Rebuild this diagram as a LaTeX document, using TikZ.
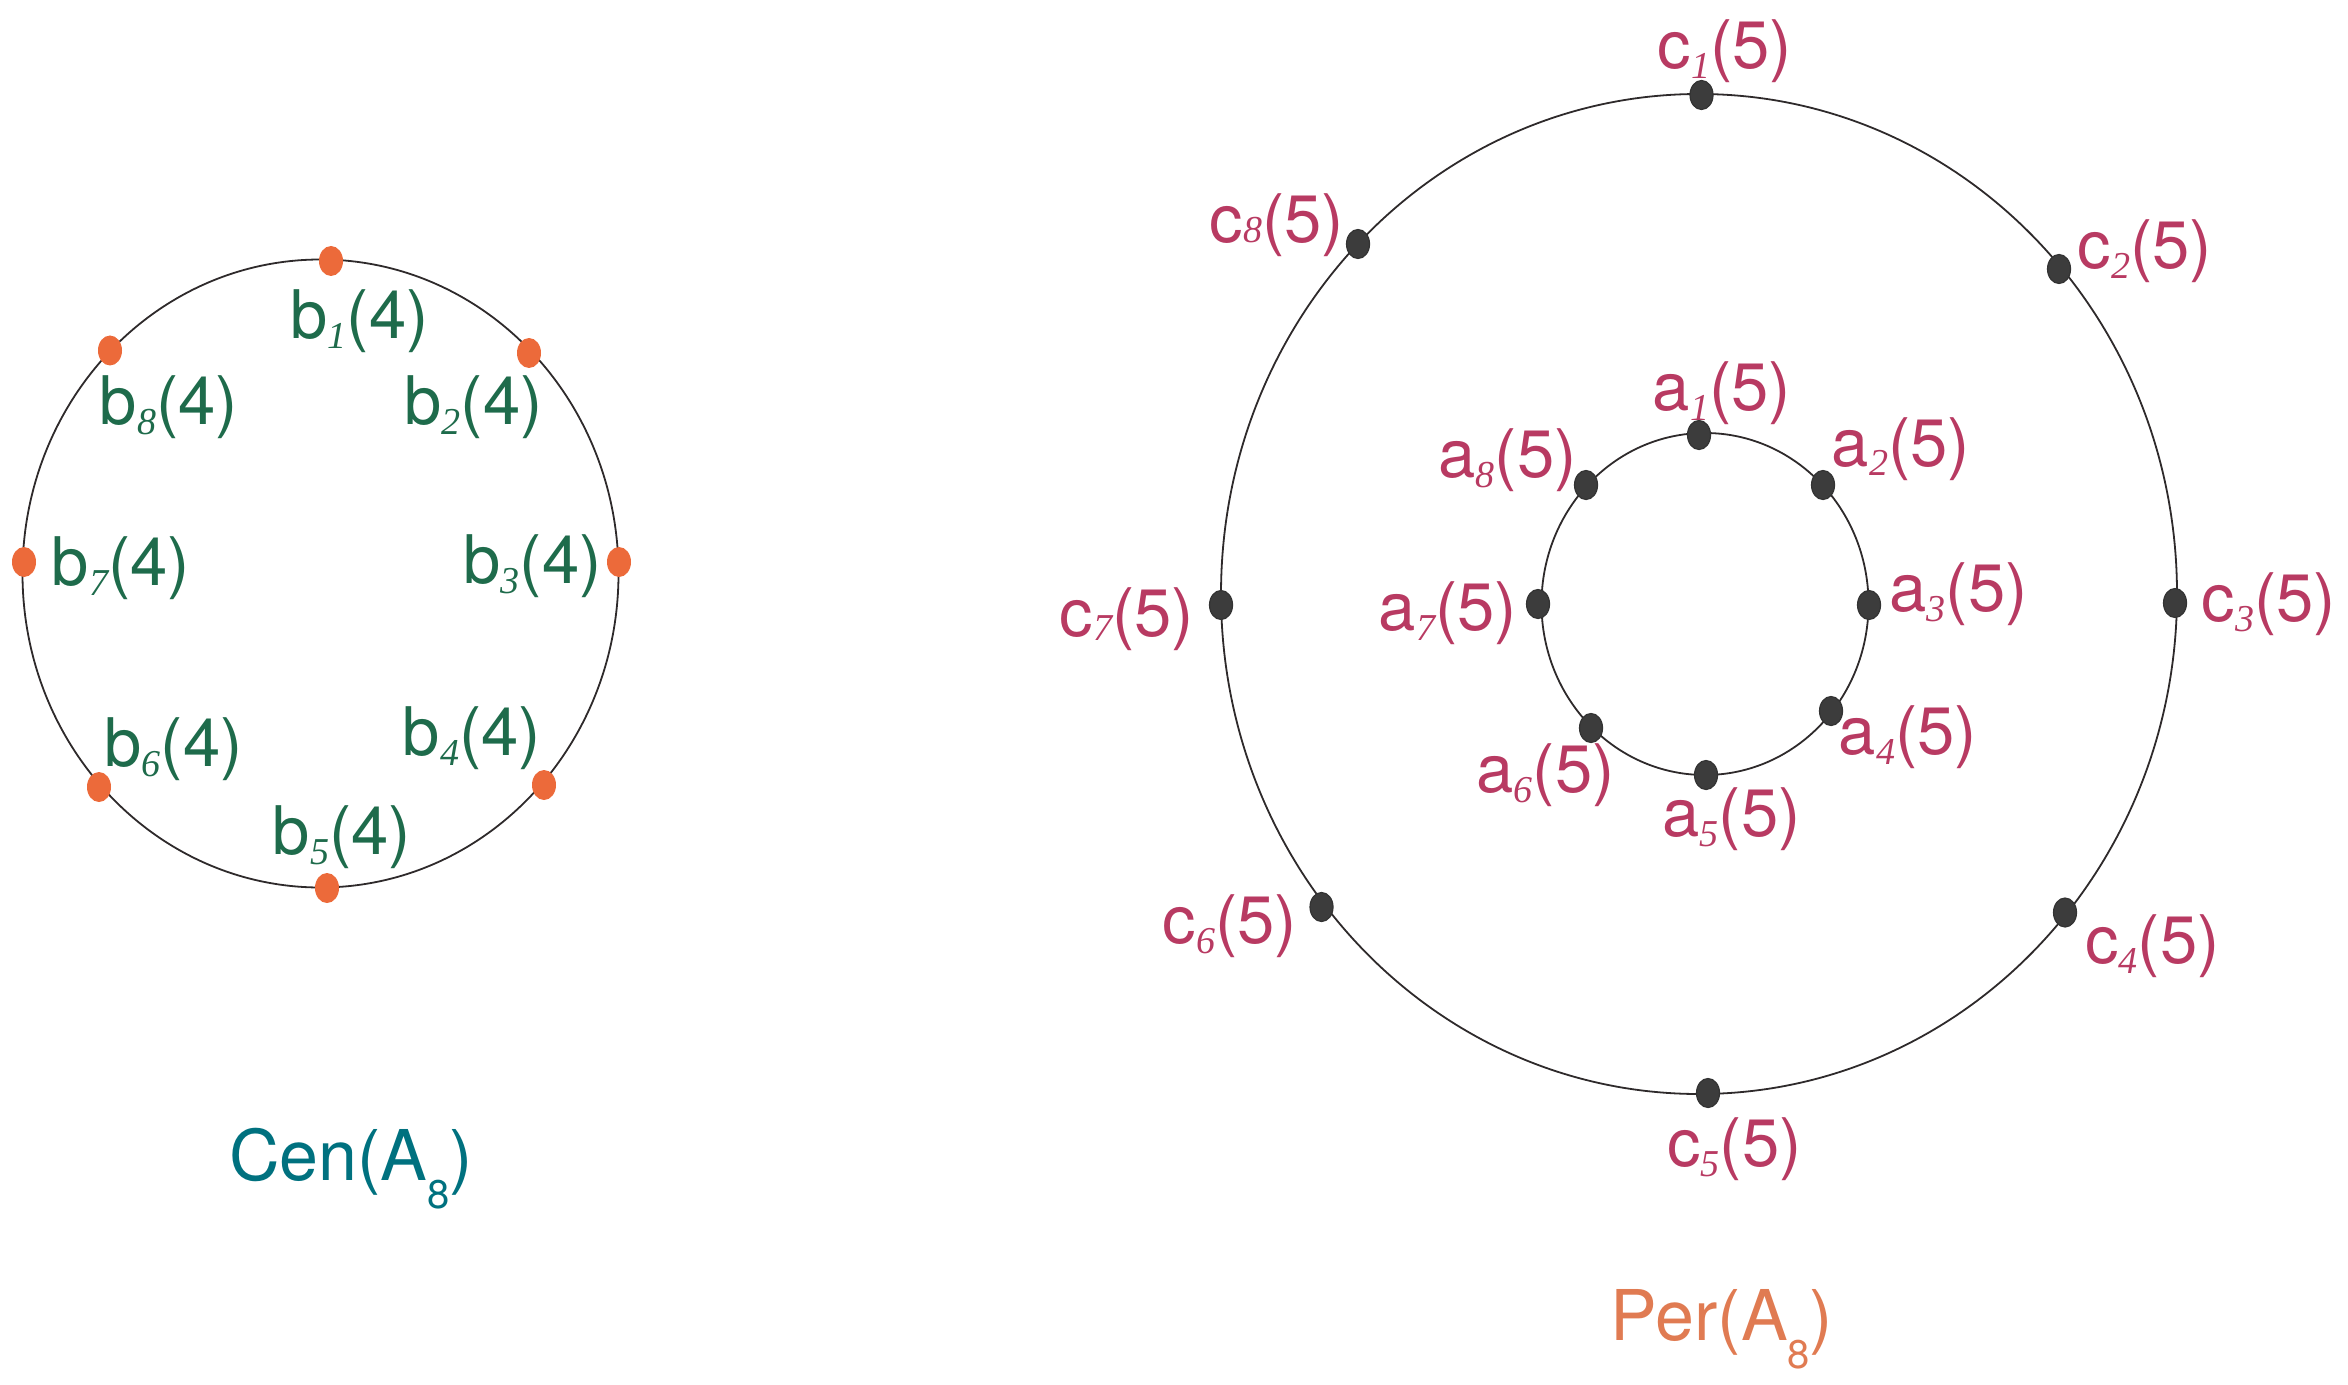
\documentclass[tikz,border=0pt]{standalone}
\usepackage{fontspec}
\setmainfont{TeX Gyre Heros}
\newfontfamily\subserif{Liberation Serif}
\usetikzlibrary{shapes.geometric}
\definecolor{lgreen}{HTML}{1E6B4B}
\definecolor{lpink}{HTML}{B83A62}
\definecolor{dorange}{HTML}{EC6A3A}
\definecolor{ddark}{HTML}{3C3C3C}
\definecolor{lteal}{HTML}{00717F}
\definecolor{perorange}{HTML}{E07B52}
\definecolor{ringc}{HTML}{2E2A2B}
\newcommand{\mklab}[4][-5pt]{#2\raisebox{#1}{\fontsize{19}{19}\selectfont\subserif\itshape #3}(#4)}
\newcommand{\mktitle}[1]{#1(A\raisebox{-14pt}{\fontsize{20}{20}\selectfont 8})}
\begin{document}
\begin{tikzpicture}[x=0.5pt,y=-0.5pt,
  lbl/.style={inner sep=0pt, anchor=base, font=\fontsize{33.5}{38}\selectfont},
  bl/.style={lbl, text=lgreen},
  pl/.style={lbl, text=lpink},
  ttl/.style={inner sep=0pt, anchor=base, font=\fontsize{35}{40}\selectfont},
  odot/.style={ellipse, fill=dorange, draw=none, minimum width=12pt, minimum height=15pt, inner sep=0pt},
  ddot/.style={ellipse, fill=ddark, draw=black!80, line width=0.6pt, minimum width=11.5pt, minimum height=14.5pt, inner sep=0pt},
  ring/.style={draw=ringc, line width=0.9pt}]
\useasboundingbox (0,0) rectangle (2348,1385);

% rings
\draw[ring] (320.5,573.5) ellipse [x radius=149pt, y radius=157pt];
\draw[ring] (1699,594) ellipse [x radius=239pt, y radius=250pt];
\draw[ring] (1705,604) ellipse [x radius=81.75pt, y radius=85.5pt];

% left dots
\node[odot] (B1) at (331,261) {};
\node[odot] (B2) at (529,353) {};
\node[odot] (B3) at (619,562) {};
\node[odot] (B4) at (544,785) {};
\node[odot] (B5) at (327,888) {};
\node[odot] (B6) at (99,787) {};
\node[odot] (B7) at (24,562) {};
\node[odot] (B8) at (110,350.5) {};

% left labels
\node[bl] (lb1) at (359.5,339) {\mklab{b}{1}{4}};
\node[bl] (lb2) at (473.5,424) {\mklab{b}{2}{4}};
\node[bl] (lb3) at (532.5,583) {\mklab{b}{3}{4}};
\node[bl] (lb4) at (472,755) {\mklab{b}{4}{4}};
\node[bl] (lb5) at (342,854) {\mklab{b}{5}{4}};
\node[bl] (lb6) at (173.5,766) {\mklab{b}{6}{4}};
\node[bl] (lb7) at (121,585) {\mklab{b}{7}{4}};
\node[bl] (lb8) at (169,424) {\mklab{b}{8}{4}};

% outer dots
\node[ddot] (C1) at (1701.5,95) {};
\node[ddot] (C2) at (2059,269) {};
\node[ddot] (C3) at (2175,603) {};
\node[ddot] (C4) at (2065,912.5) {};
\node[ddot] (C5) at (1708,1093) {};
\node[ddot] (C6) at (1321.5,907) {};
\node[ddot] (C7) at (1221,605) {};
\node[ddot] (C8) at (1358,244) {};

% inner dots
\node[ddot] (A1) at (1699,435) {};
\node[ddot] (A2) at (1823,485) {};
\node[ddot] (A3) at (1869,605) {};
\node[ddot] (A4) at (1831,711) {};
\node[ddot] (A5) at (1706,775) {};
\node[ddot] (A6) at (1591,728) {};
\node[ddot] (A7) at (1538,604) {};
\node[ddot] (A8) at (1586,485) {};

% outer labels
\node[pl] (lc1) at (1725,69) {\mklab{c}{1}{5}};
\node[pl] (lc2) at (2145,269) {\mklab{c}{2}{5}};
\node[pl] (lc3) at (2269,621) {\mklab{c}{3}{5}};
\node[pl] (lc4) at (2152.5,963) {\mklab{c}{4}{5}};
\node[pl] (lc5) at (1734.5,1166) {\mklab{c}{5}{5}};
\node[pl] (lc6) at (1230,943) {\mklab{c}{6}{5}};
\node[pl] (lc7) at (1127,636) {\mklab[-2pt]{c}{7}{5}};
\node[pl] (lc8) at (1277,243) {\mklab[0pt]{c}{8}{5}};

% inner labels
\node[pl] (la1) at (1722,410) {\mklab{a}{1}{5}};
\node[pl] (la2) at (1901,466) {\mklab{a}{2}{5}};
\node[pl] (la3) at (1958.5,611) {\mklab{a}{3}{5}};
\node[pl] (la4) at (1908,754) {\mklab{a}{4}{5}};
\node[pl] (la5) at (1731.5,836) {\mklab{a}{5}{5}};
\node[pl] (la6) at (1545.5,792) {\mklab{a}{6}{5}};
\node[pl] (la7) at (1448,630) {\mklab{a}{7}{5}};
\node[pl] (la8) at (1507.5,477) {\mklab{a}{8}{5}};

% titles
\node[ttl, text=lteal] (cen) at (351,1180) {\mktitle{Cen}};
\node[ttl, text=perorange] (per) at (1722,1340) {\mktitle{Per}};
\end{tikzpicture}
\end{document}
